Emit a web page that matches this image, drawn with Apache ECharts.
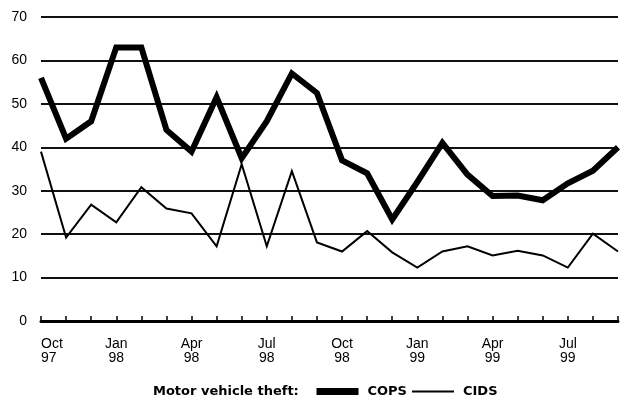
<!DOCTYPE html>
<html>
<head>
<meta charset="utf-8">
<script src="https://cdn.jsdelivr.net/npm/echarts@6/dist/echarts.min.js"></script>
<style>
  html, body { margin: 0; padding: 0; background: #fff; }
  #chart { width: 620px; height: 405px; }
</style>
</head>
<body>
<div id="chart"></div>
<script>
const months = [
  'Oct 97', 'Nov 97', 'Dec 97', 'Jan 98', 'Feb 98', 'Mar 98', 'Apr 98', 'May 98',
  'Jun 98', 'Jul 98', 'Aug 98', 'Sep 98', 'Oct 98', 'Nov 98', 'Dec 98', 'Jan 99',
  'Feb 99', 'Mar 99', 'Apr 99', 'May 99', 'Jun 99', 'Jul 99', 'Aug 99', 'Sep 99'
]
const cops = [56, 42, 46, 63, 63, 44, 39, 51.5, 37.5, 46, 57, 52.5,
  37, 34, 23.4, 32, 41, 33.7, 28.8, 28.9, 27.8, 31.7, 34.6, 40]
const cids = [39, 19.2, 26.8, 22.7, 30.8, 25.9, 24.8, 17.2, 36.1, 17.2, 34.5, 18.1,
  16, 20.7, 15.8, 12.3, 16, 17.2, 15.1, 16.2, 15.1, 12.3, 20.1, 16]
const yTicks = [0, 10, 20, 30, 40, 50, 60, 70]

const font = 'Liberation Sans, Arial, sans-serif'
const legendFont = 'DejaVu Sans, sans-serif'
const chart = echarts.init(document.getElementById('chart'))

chart.setOption({
  animation: false,
  backgroundColor: '#fff',
  textStyle: { fontFamily: font },
  grid: { left: 41, right: 2, top: 17, bottom: 84 },
  xAxis: {
    type: 'category',
    data: months,
    boundaryGap: false,
    axisLine: { lineStyle: { color: '#000', width: 3 } },
    axisTick: {
      inside: true,
      length: 5,
      interval: 0,
      lineStyle: { color: '#000', width: 1.5 }
    },
    axisLabel: {
      interval: 2,
      color: '#000',
      fontSize: 14,
      lineHeight: 14,
      margin: 16,
      alignMinLabel: 'left',
      formatter: v => v.replace(' ', '\n')
    },
    splitLine: { show: false }
  },
  yAxis: {
    type: 'value',
    min: yTicks[0],
    max: yTicks[yTicks.length - 1],
    interval: 10,
    axisLine: { show: false },
    axisTick: { show: false },
    axisLabel: { color: '#000', fontSize: 14, margin: 14 },
    splitLine: { lineStyle: { color: '#111', width: 2 } }
  },
  legend: {
    left: 308,
    top: 380,
    itemWidth: 42,
    itemHeight: 14,
    itemGap: 4,
    textStyle: {
      color: '#000', fontSize: 13, fontWeight: 'bold',
      fontFamily: legendFont, padding: [0, 0, 0, 4]
    },
    data: [
      { name: 'COPS', lineStyle: { width: 7, color: '#000' }, itemStyle: { color: 'rgba(0,0,0,0)', borderWidth: 0 } },
      { name: 'CIDS', lineStyle: { width: 2, color: '#000' }, itemStyle: { color: 'rgba(0,0,0,0)', borderWidth: 0 } }
    ]
  },
  graphic: [{
    type: 'text',
    left: 153,
    top: 385,
    style: {
      text: 'Motor vehicle theft:',
      font: 'bold 13px ' + legendFont,
      fill: '#000'
    }
  }],
  series: [
    {
      name: 'COPS',
      type: 'line',
      data: cops,
      symbol: 'none',
      lineStyle: { color: '#000', width: 6, join: 'miter' },
      itemStyle: { color: '#000' }
    },
    {
      name: 'CIDS',
      type: 'line',
      data: cids,
      symbol: 'none',
      lineStyle: { color: '#000', width: 2, join: 'miter' },
      itemStyle: { color: '#000' }
    }
  ]
})
</script>
</body>
</html>
